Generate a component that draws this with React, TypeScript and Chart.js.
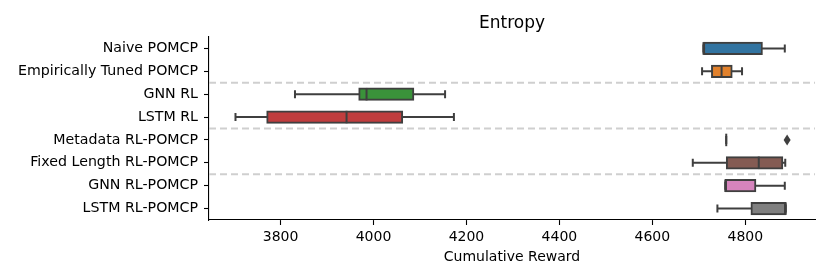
import React, { useEffect, useRef } from "react";
import { Chart, registerables } from "chart.js";

Chart.register(...registerables);

const categories = [
  "Naive POMCP",
  "Empirically Tuned POMCP",
  "GNN RL",
  "LSTM RL",
  "Metadata RL-POMCP",
  "Fixed Length RL-POMCP",
  "GNN RL-POMCP",
  "LSTM RL-POMCP",
];
const whiskerLow = [4710, 4707, 3831, 3703, 4759, 4687, 4757, 4740];
const q1 = [4710, 4727, 3968, 3770, 4759, 4759, 4757, 4812];
const median = [4710, 4749, 3985, 3942, 4759, 4829, 4757, 4887];
const q3 = [4837, 4772, 4087, 4063, 4759, 4881, 4823, 4887];
const whiskerHigh = [4885, 4793, 4154, 4173, 4759, 4886, 4885, 4887];
const outliers: number[][] = [[], [], [], [], [4890], [], [], []];
const boxColors = [
  "#3274a1",
  "#e1812c",
  "#3a923a",
  "#c03d3e",
  "#9372b2",
  "#845b53",
  "#d684bd",
  "#7f7f7f",
];
const separatorsAfter = [1, 3, 5];
const xTicks = [3800, 4000, 4200, 4400, 4600, 4800];
const xMin = 3646;
const xMax = 4950;

const FONT = "'DejaVu Sans', sans-serif";
const LINE = "#3f3f3f";
const BOX_H = 12.5;
const CAP_H = 8;

const boxPlugin = {
  id: "boxExtras",
  beforeDatasetsDraw(chart: any) {
    const { ctx, chartArea, scales } = chart;
    const x = scales.x;
    const y = scales.y;
    ctx.save();
    ctx.strokeStyle = "#cfcfcf";
    ctx.lineWidth = 2;
    ctx.setLineDash([7, 4]);
    separatorsAfter.forEach((i) => {
      const py = (y.getPixelForValue(i) + y.getPixelForValue(i + 1)) / 2;
      ctx.beginPath();
      ctx.moveTo(chartArea.left, py);
      ctx.lineTo(chartArea.right, py);
      ctx.stroke();
    });
    ctx.setLineDash([]);
    ctx.strokeStyle = LINE;
    ctx.lineWidth = 2;
    categories.forEach((_, i) => {
      const py = y.getPixelForValue(i);
      const lo = x.getPixelForValue(whiskerLow[i]);
      const hi = x.getPixelForValue(whiskerHigh[i]);
      ctx.beginPath();
      ctx.moveTo(lo, py);
      ctx.lineTo(hi, py);
      ctx.moveTo(lo, py - CAP_H / 2);
      ctx.lineTo(lo, py + CAP_H / 2);
      ctx.moveTo(hi, py - CAP_H / 2);
      ctx.lineTo(hi, py + CAP_H / 2);
      ctx.stroke();
    });
    ctx.restore();
  },
  afterDatasetsDraw(chart: any) {
    const { ctx, scales } = chart;
    const x = scales.x;
    const y = scales.y;
    ctx.save();
    ctx.strokeStyle = LINE;
    ctx.lineWidth = 2;
    categories.forEach((_, i) => {
      const py = y.getPixelForValue(i);
      const mx = x.getPixelForValue(median[i]);
      ctx.beginPath();
      ctx.moveTo(mx, py - BOX_H / 2);
      ctx.lineTo(mx, py + BOX_H / 2);
      ctx.stroke();
      outliers[i].forEach((v) => {
        const ox = x.getPixelForValue(v);
        ctx.beginPath();
        ctx.moveTo(ox, py - 5.5);
        ctx.lineTo(ox + 3.5, py);
        ctx.lineTo(ox, py + 5.5);
        ctx.lineTo(ox - 3.5, py);
        ctx.closePath();
        ctx.fillStyle = LINE;
        ctx.fill();
      });
    });
    ctx.restore();
  },
};

export default function App() {
  const ref = useRef<HTMLCanvasElement>(null);
  useEffect(() => {
    if (!ref.current) return;
    const chart = new Chart(ref.current, {
      type: "bar",
      data: {
        labels: categories,
        datasets: [
          {
            data: categories.map((_, i) => [q1[i], q3[i]]) as any,
            backgroundColor: boxColors,
            borderColor: LINE,
            borderWidth: 2,
            borderSkipped: false,
            barThickness: BOX_H,
          },
        ],
      },
      options: {
        indexAxis: "y",
        animation: false,
        responsive: false,
        layout: { padding: { left: 0, right: 15, top: 0, bottom: 0 } },
        plugins: {
          legend: { display: false },
          tooltip: { enabled: false },
          title: {
            display: true,
            text: "Entropy",
            fullSize: false,
            color: "#000",
            font: { family: FONT, size: 17, weight: "normal" },
            padding: { top: 13, bottom: 3.6 },
          },
        },
        scales: {
          x: {
            type: "linear",
            min: xMin,
            max: xMax,
            afterBuildTicks: (scale: any) => {
              scale.ticks = xTicks.map((v) => ({ value: v }));
            },
            afterFit: (scale: any) => {
              scale.height = 60;
            },
            grid: {
              drawOnChartArea: false,
              drawTicks: true,
              tickLength: 5,
              tickColor: "#000",
              tickWidth: 1.1,
            },
            border: { display: true, color: "#000", width: 1.1 },
            ticks: {
              color: "#000",
              font: { family: FONT, size: 14 },
              padding: 4,
              maxRotation: 0,
              callback: (v: any) => String(v),
            },
            title: {
              display: true,
              text: "Cumulative Reward",
              color: "#000",
              font: { family: FONT, size: 14 },
              padding: { top: 0, bottom: 14.6 },
            },
          },
          y: {
            type: "category",
            afterFit: (scale: any) => {
              scale.width = 209;
            },
            grid: {
              offset: false,
              drawOnChartArea: false,
              drawTicks: true,
              tickLength: 5,
              tickColor: "#000",
              tickWidth: 1.1,
            },
            border: { display: true, color: "#000", width: 1.1 },
            ticks: {
              color: "#000",
              font: { family: FONT, size: 14.2 },
              padding: 6,
            },
          },
        },
      },
      plugins: [boxPlugin],
    });
    return () => chart.destroy();
  }, []);
  return (
    <div style={{ position: "fixed", left: 0, top: 0, width: 830, height: 280, background: "#fff" }}>
      <canvas ref={ref} width={830} height={280} style={{ display: "block" }} />
    </div>
  );
}
